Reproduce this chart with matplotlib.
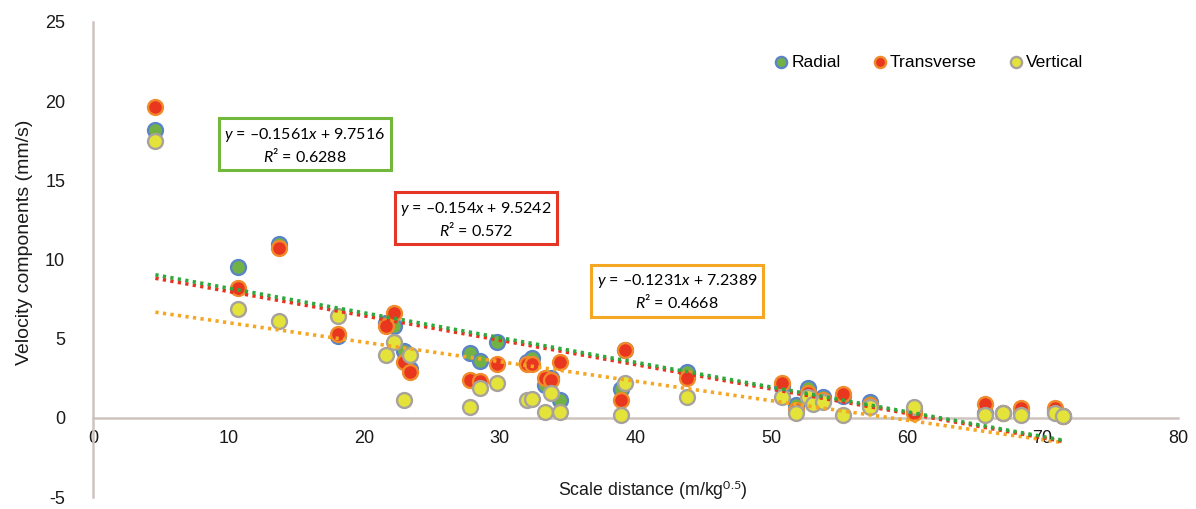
import numpy as np
import matplotlib
import matplotlib.pyplot as plt

matplotlib.use('Agg')

## Data
distance = [4.6, 10.7, 13.7, 18.1, 21.6, 22.2, 22.9, 23.4, 27.8, 28.5, 29.8,
            32.0, 32.4, 33.3, 33.8, 34.4, 38.9, 39.2, 43.8, 50.8, 51.8, 52.7,
            53.1, 53.8, 55.3, 57.3, 60.5, 65.8, 67.1, 68.4, 70.9, 71.5]

radial = [18.2, 9.5, 11.0, 5.2, 6.0, 5.8, 4.2, 3.1, 4.1, 3.6, 4.8,
          3.5, 3.8, 2.1, 2.5, 1.1, 1.8, 4.3, 2.9, 2.0, 0.8, 1.9,
          1.0, 1.3, 1.4, 1.0, 0.5, 0.3, 0.3, 0.3, 0.4, 0.1]

transverse = [19.6, 8.2, 10.7, 5.3, 5.8, 6.6, 3.5, 2.9, 2.4, 2.3, 3.4,
              3.4, 3.4, 2.5, 2.4, 3.5, 1.1, 4.3, 2.5, 2.2, 0.5, 1.6,
              1.1, 1.1, 1.5, 0.8, 0.3, 0.9, 0.3, 0.6, 0.6, 0.1]

vertical = [17.5, 6.9, 6.1, 6.4, 4.0, 4.8, 1.1, 4.0, 0.7, 1.9, 2.2,
            1.1, 1.2, 0.4, 1.6, 0.4, 0.2, 2.2, 1.3, 1.3, 0.3, 1.3,
            0.9, 1.0, 0.2, 0.7, 0.7, 0.2, 0.3, 0.2, 0.3, 0.1]

series_names = ["Radial", "Transverse", "Vertical"]
slopes = [-0.1561, -0.154, -0.1231]
intercepts = [9.7516, 9.5242, 7.2389]
r_squared = ["0.6288", "0.572", "0.4668"]

## Styles
face_colors = ["#72b244", "#e8361f", "#e4e33a"]
edge_colors = ["#5b84c8", "#f08a2a", "#a8a29c"]
trend_colors = ["#2fa83c", "#e8321e", "#f5a623"]
box_colors = ["#72b83c", "#e53525", "#f5a623"]
box_pos = [(305, 145), (476, 219), (677, 292)]  # pixel centres

plt.rcParams['font.family'] = ['Liberation Sans', 'DejaVu Sans']
plt.rcParams['axes.unicode_minus'] = False
plt.rcParams['mathtext.fontset'] = 'custom'
plt.rcParams['mathtext.it'] = 'Lato:italic'
plt.rcParams['mathtext.rm'] = 'Lato'

W, H = 1196, 509
fig = plt.figure(figsize=(W / 100, H / 100), dpi=100)
ax = fig.add_axes([93 / W, 1 - 497 / H, (1178 - 93) / W, (497 - 22) / H])

xs = np.array(distance)
data = [radial, transverse, vertical]

for i, vals in enumerate(data):
    ax.scatter(xs, vals, s=115, facecolor=face_colors[i], edgecolor=edge_colors[i],
               linewidth=1.7, zorder=3 + i, label=series_names[i])

# trendlines
xline = np.array([xs.min(), xs.max()])
for i in [2, 1, 0]:
    ax.plot(xline, slopes[i] * xline + intercepts[i], color=trend_colors[i],
            linewidth=2.6, linestyle=(0, (0.9, 1.2)), zorder=8)

ax.set_xlim(0, 80)
ax.set_ylim(-5, 25)
ax.set_xticks(range(0, 81, 10))
ax.set_yticks(range(-5, 26, 5))
ax.tick_params(length=0, labelsize=13, colors='#1a1a1a')
ax.tick_params(axis='x', pad=9)
ax.tick_params(axis='y', pad=20)

for s in ['top', 'right']:
    ax.spines[s].set_visible(False)
ax.spines['bottom'].set_position(('data', 0))
for s in ['left', 'bottom']:
    ax.spines[s].set_color('#cdc4bf')
    ax.spines[s].set_linewidth(1.8)

fig.text(25 / W, 1 - 242 / H, "Velocity components (mm/s)", fontsize=14,
         rotation=90, ha='center', va='center', color='#1a1a1a')
fig.text(653 / W, 1 - 490 / H, r"Scale distance (m/kg$^{\mathrm{0.5}}$)",
         fontsize=12.8, ha='center', va='center', color='#1a1a1a')

# equation boxes
for i in range(3):
    b = "%g" % abs(slopes[i])
    txt = "$y$ = \u20130%s$x$ + %s\n$R$\u00b2 = %s" % (b[1:], intercepts[i], r_squared[i])
    px, py = box_pos[i]
    fig.text(px / W, 1 - py / H, txt, fontsize=11.5, family='Lato',
             ha='center', va='center', linespacing=1.2, zorder=10,
             bbox=dict(boxstyle='square,pad=0.35', facecolor='white',
                       edgecolor=box_colors[i], linewidth=2.2))

leg = ax.legend(loc='center right', bbox_to_anchor=(1092 / W, 1 - 62 / H),
                bbox_transform=fig.transFigure, ncol=3, frameon=False,
                fontsize=12.6, handletextpad=0.1, columnspacing=1.7,
                handlelength=1.0, markerscale=0.75, scatterpoints=1,
                borderpad=0)

fig.savefig("out.png", dpi=100)
plt.close()
